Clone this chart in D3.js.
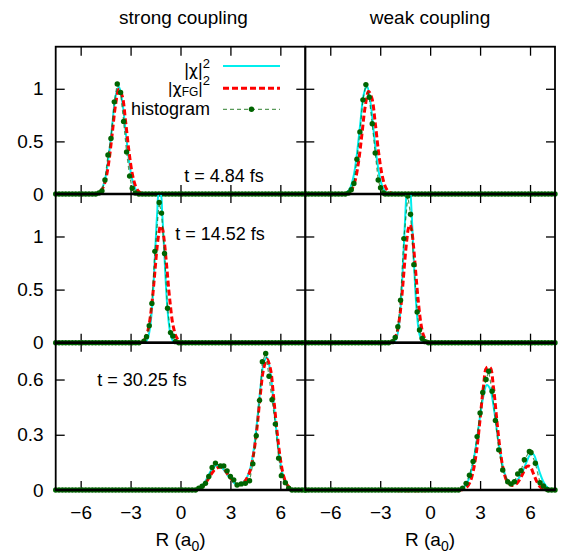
<!DOCTYPE html>
<html lang="en">
<head>
<meta charset="UTF-8">
<title>Wave packet densities</title>
<script src="https://d3js.org/d3.v7.min.js"></script>
<style>
  body { margin: 0; background: #fff; }
  text { font-family: "Liberation Sans", Arial, sans-serif; fill: #000; }
</style>
</head>
<body>
<div id="chart"></div>
<script>
// ---- data: [R (a0), density] ----
const xTicks = [-6, -3, 0, 3, 6];
const yTicksUpper = [0, 0.5, 1];
const yTicksLower = [0, 0.3, 0.6];
const columnTitles = ["strong coupling", "weak coupling"];
const timeLabels = ["t = 4.84 fs", "t = 14.52 fs", "t = 30.25 fs"];

// t = 4.84 fs
const chiStrong1 = [[-5.3,0],[-5.1,0.003],[-4.9,0.016],[-4.7,0.058],[-4.5,0.167],[-4.3,0.375],[-4.1,0.66],[-3.9,0.93],[-3.7,1.02],[-3.5,0.88],[-3.3,0.60],[-3.1,0.326],[-2.9,0.138],[-2.7,0.046],[-2.5,0.012],[-2.3,0.002],[-2.1,0]];
const chiFGStrong1 = [[-5.3,0],[-5.1,0.003],[-4.9,0.013],[-4.7,0.047],[-4.5,0.135],[-4.3,0.313],[-4.1,0.578],[-3.9,0.85],[-3.7,0.995],[-3.5,0.93],[-3.3,0.69],[-3.1,0.41],[-2.9,0.194],[-2.7,0.074],[-2.5,0.022],[-2.3,0.005],[-2.1,0]];
const histStrong1 = [[-4.9,0.01],[-4.72,0.03],[-4.54,0.133],[-4.36,0.37],[-4.18,0.527],[-3.98,0.876],[-3.8,1.045],[-3.6,0.965],[-3.42,0.69],[-3.24,0.40],[-3.06,0.17],[-2.9,0.055],[-2.72,0.01]];

const chiWeak1 = [[-5.4,0],[-5.2,0.003],[-5.0,0.016],[-4.8,0.058],[-4.6,0.168],[-4.4,0.38],[-4.2,0.665],[-4.0,0.94],[-3.8,1.03],[-3.6,0.89],[-3.4,0.605],[-3.2,0.33],[-3.0,0.14],[-2.8,0.046],[-2.6,0.012],[-2.4,0.002],[-2.2,0]];
const chiFGWeak1 = [[-5.3,0],[-5.1,0.003],[-4.9,0.013],[-4.7,0.046],[-4.5,0.132],[-4.3,0.307],[-4.1,0.566],[-3.9,0.833],[-3.7,0.975],[-3.5,0.91],[-3.3,0.676],[-3.1,0.40],[-2.9,0.19],[-2.7,0.072],[-2.5,0.022],[-2.3,0.005],[-2.1,0]];
const histWeak1 = [[-4.9,0.01],[-4.74,0.04],[-4.58,0.10],[-4.4,0.33],[-4.22,0.59],[-4.04,0.895],[-3.86,1.04],[-3.66,0.92],[-3.48,0.667],[-3.3,0.39],[-3.12,0.133],[-2.98,0.06],[-2.8,0.01]];

// t = 14.52 fs
const chiStrong2 = [[-2.3,0],[-2.2,0.003],[-2.1,0.01],[-2.0,0.03],[-1.9,0.08],[-1.8,0.18],[-1.7,0.35],[-1.6,0.61],[-1.5,0.93],[-1.4,1.22],[-1.3,1.40],[-1.2,1.40],[-1.1,1.22],[-1.0,0.93],[-0.9,0.61],[-0.8,0.35],[-0.7,0.18],[-0.6,0.08],[-0.5,0.03],[-0.4,0.01],[-0.3,0.003],[-0.2,0]];
const chiFGStrong2 = [[-2.4,0],[-2.3,0.01],[-2.2,0.02],[-2.1,0.047],[-2.0,0.09],[-1.9,0.158],[-1.8,0.26],[-1.7,0.395],[-1.6,0.56],[-1.5,0.74],[-1.4,0.91],[-1.3,1.03],[-1.2,1.1],[-1.1,1.08],[-1.0,0.99],[-0.9,0.84],[-0.8,0.67],[-0.7,0.49],[-0.6,0.34],[-0.5,0.21],[-0.4,0.13],[-0.3,0.07],[-0.2,0.04],[-0.1,0.015],[0,0.005],[0.1,0]];
const histStrong2 = [[-2.2,0.015],[-2.04,0.057],[-1.88,0.16],[-1.72,0.37],[-1.54,0.86],[-1.28,1.32],[-1.14,1.22],[-0.96,0.84],[-0.78,0.325],[-0.6,0.095],[-0.46,0.063],[-0.3,0.01]];

const chiWeak2 = [[-2.3,0],[-2.2,0.005],[-2.1,0.02],[-2.0,0.054],[-1.9,0.13],[-1.8,0.28],[-1.7,0.52],[-1.6,0.84],[-1.5,1.18],[-1.4,1.45],[-1.3,1.55],[-1.2,1.45],[-1.1,1.18],[-1.0,0.84],[-0.9,0.52],[-0.8,0.28],[-0.7,0.13],[-0.6,0.054],[-0.5,0.02],[-0.4,0.005],[-0.3,0]];
const chiFGWeak2 = [[-2.4,0],[-2.3,0.01],[-2.2,0.02],[-2.1,0.047],[-2.0,0.09],[-1.9,0.17],[-1.8,0.28],[-1.7,0.435],[-1.6,0.62],[-1.5,0.81],[-1.4,0.97],[-1.3,1.08],[-1.2,1.11],[-1.1,1.05],[-1.0,0.91],[-0.9,0.73],[-0.8,0.54],[-0.7,0.37],[-0.6,0.23],[-0.5,0.13],[-0.4,0.07],[-0.3,0.035],[-0.2,0.015],[-0.1,0.005],[0,0]];
const histWeak2 = [[-2.26,0.01],[-2.1,0.05],[-1.94,0.15],[-1.78,0.40],[-1.58,0.98],[-1.34,1.38],[-1.18,1.21],[-0.98,0.735],[-0.78,0.29],[-0.64,0.12],[-0.48,0.04],[-0.3,0.01]];

// t = 30.25 fs
const chiStrong3 = [[0.8,0],[1.0,0.005],[1.2,0.015],[1.4,0.035],[1.6,0.065],[1.8,0.10],[2.0,0.125],[2.2,0.135],[2.4,0.13],[2.6,0.11],[2.8,0.085],[3.0,0.06],[3.2,0.04],[3.4,0.03],[3.6,0.03],[3.8,0.045],[4.0,0.07],[4.2,0.12],[4.4,0.22],[4.6,0.37],[4.8,0.55],[5.0,0.69],[5.2,0.72],[5.4,0.64],[5.6,0.47],[5.8,0.29],[6.0,0.15],[6.2,0.065],[6.4,0.025],[6.6,0.008],[6.8,0]];
const chiFGStrong3 = [[0.8,0],[1.0,0.003],[1.2,0.01],[1.4,0.025],[1.6,0.05],[1.8,0.08],[2.0,0.105],[2.2,0.12],[2.4,0.125],[2.6,0.115],[2.8,0.09],[3.0,0.065],[3.2,0.045],[3.4,0.03],[3.6,0.03],[3.8,0.04],[4.0,0.065],[4.2,0.11],[4.4,0.20],[4.6,0.34],[4.8,0.52],[5.0,0.66],[5.2,0.71],[5.4,0.66],[5.6,0.50],[5.8,0.32],[6.0,0.17],[6.2,0.075],[6.4,0.03],[6.6,0.01],[6.8,0]];
const histStrong3 = [[1.1,0.01],[1.3,0.02],[1.5,0.036],[1.7,0.073],[1.9,0.122],[2.1,0.146],[2.4,0.131],[2.6,0.131],[2.8,0.104],[3.0,0.073],[3.2,0.055],[3.4,0.027],[3.65,0.033],[3.9,0.036],[4.15,0.05],[4.35,0.142],[4.55,0.295],[4.75,0.487],[4.92,0.697],[5.12,0.742],[5.32,0.618],[5.5,0.49],[5.7,0.358],[5.9,0.173],[6.06,0.078],[6.3,0.04],[6.5,0.01]];

const chiWeak3 = [[1.6,0],[1.8,0.005],[2.0,0.013],[2.2,0.035],[2.4,0.08],[2.6,0.157],[2.8,0.27],[3.0,0.40],[3.2,0.51],[3.4,0.57],[3.6,0.55],[3.8,0.46],[4.0,0.33],[4.2,0.21],[4.4,0.115],[4.6,0.06],[4.8,0.035],[5.0,0.035],[5.2,0.05],[5.4,0.075],[5.6,0.11],[5.8,0.155],[6.0,0.19],[6.2,0.195],[6.4,0.15],[6.6,0.09],[6.8,0.045],[7.0,0.018],[7.2,0.005],[7.4,0]];
const chiFGWeak3 = [[1.8,0],[2.0,0.004],[2.2,0.015],[2.4,0.044],[2.6,0.108],[2.8,0.22],[3.0,0.385],[3.2,0.56],[3.4,0.665],[3.6,0.665],[3.8,0.56],[4.0,0.385],[4.2,0.22],[4.4,0.11],[4.6,0.05],[4.8,0.03],[5.0,0.025],[5.2,0.035],[5.4,0.06],[5.6,0.095],[5.8,0.128],[6.0,0.128],[6.2,0.09],[6.4,0.047],[6.6,0.018],[6.8,0.005],[7.0,0]];
const histWeak3 = [[1.95,0.01],[2.16,0.036],[2.36,0.08],[2.58,0.155],[2.82,0.29],[3.0,0.418],[3.16,0.53],[3.36,0.60],[3.52,0.645],[3.72,0.536],[3.92,0.378],[4.12,0.218],[4.36,0.109],[4.66,0.045],[4.86,0.033],[5.06,0.045],[5.26,0.087],[5.46,0.105],[5.66,0.164],[5.96,0.209],[6.06,0.204],[6.32,0.145],[6.6,0.04],[6.8,0.022],[7.0,0.005]];

// empty histogram bins along the whole R range
const binCenters = d3.range(-7.5, 7.51, 0.2);

const panels = [
  {col: 0, row: 0, chi: chiStrong1, fg: chiFGStrong1, hist: histStrong1},
  {col: 1, row: 0, chi: chiWeak1,   fg: chiFGWeak1,   hist: histWeak1},
  {col: 0, row: 1, chi: chiStrong2, fg: chiFGStrong2, hist: histStrong2},
  {col: 1, row: 1, chi: chiWeak2,   fg: chiFGWeak2,   hist: histWeak2},
  {col: 0, row: 2, chi: chiStrong3, fg: chiFGStrong3, hist: histStrong3},
  {col: 1, row: 2, chi: chiWeak3,   fg: chiFGWeak3,   hist: histWeak3}
];

// ---- layout ----
const width = 564, height = 558;
const colX = [[55.7, 305.3], [305.3, 555]];
const rowY = [[46.7, 194], [194, 342.7], [342.7, 490]];
const yMax = [1.4, 1.4, 0.8];
const FONT = "Liberation Sans, Arial, sans-serif";
const cyan = "#00eeee", red = "#ff0000", green = "#006400";

const svg = d3.select("#chart").append("svg")
  .attr("width", width)
  .attr("height", height);

const defs = svg.append("defs");

function styleAxis(g, labels) {
  g.select(".domain").remove();
  g.selectAll(".tick line").attr("stroke", "#000").attr("stroke-width", 1.3);
  g.selectAll(".tick text").attr("font-size", labels ? 19 : 0).attr("font-family", FONT);
}

panels.forEach((p, i) => {
  const [x0, x1] = colX[p.col];
  const [y0, y1] = rowY[p.row];
  const x = d3.scaleLinear().domain([-7.5, 7.5]).range([x0, x1]);
  const y = d3.scaleLinear().domain([0, yMax[p.row]]).range([y1, y0]);
  const yTicks = p.row === 2 ? yTicksLower : yTicksUpper;
  const g = svg.append("g");

  defs.append("clipPath").attr("id", "clip" + i)
    .append("rect")
    .attr("x", x0).attr("y", y0)
    .attr("width", x1 - x0).attr("height", y1 - y0 + 3);

  // ticks, mirrored on all sides, pointing inward
  const bottomLabels = p.row === 2;
  const leftLabels = p.col === 0;
  g.append("g").attr("transform", `translate(0,${y1})`)
    .call(d3.axisBottom(x).tickValues(xTicks).tickSizeInner(-9).tickSizeOuter(0).tickPadding(16)
      .tickFormat(bottomLabels ? d3.format("d") : () => ""))
    .call(s => styleAxis(s, bottomLabels));
  g.append("g").attr("transform", `translate(0,${y0})`)
    .call(d3.axisTop(x).tickValues(xTicks).tickSizeInner(-9).tickSizeOuter(0).tickFormat(() => ""))
    .call(s => styleAxis(s, false));
  g.append("g").attr("transform", `translate(${x0},0)`)
    .call(d3.axisLeft(y).tickValues(yTicks).tickSizeInner(-9).tickSizeOuter(0).tickPadding(12)
      .tickFormat(leftLabels ? d => String(d) : () => ""))
    .call(s => styleAxis(s, leftLabels));
  g.append("g").attr("transform", `translate(${x1},0)`)
    .call(d3.axisRight(y).tickValues(yTicks).tickSizeInner(-9).tickSizeOuter(0).tickFormat(() => ""))
    .call(s => styleAxis(s, false));

  const line = d3.line()
    .x(d => x(d[0]))
    .y(d => y(d[1]))
    .curve(d3.curveCatmullRom.alpha(0.5));

  const pad = arr => [[-7.5, 0]].concat(arr, [[7.5, 0]]);

  const data = g.append("g").attr("clip-path", `url(#clip${i})`);
  data.append("path")
    .attr("d", line(pad(p.chi)))
    .attr("fill", "none")
    .attr("stroke", cyan)
    .attr("stroke-width", 2);
  data.append("path")
    .attr("d", line(pad(p.fg)))
    .attr("fill", "none")
    .attr("stroke", red)
    .attr("stroke-width", 3)
    .attr("stroke-dasharray", "6,3");

  const lo = p.hist[0][0] - 0.1, hi = p.hist[p.hist.length - 1][0] + 0.1;
  const hist = binCenters.filter(r => r < lo || r > hi).map(r => [r, 0])
    .concat(p.hist)
    .sort((a, b) => a[0] - b[0]);

  data.append("path")
    .attr("d", d3.line().x(d => x(d[0])).y(d => y(d[1]))(hist))
    .attr("fill", "none")
    .attr("stroke", green)
    .attr("stroke-opacity", 0.65)
    .attr("stroke-width", 1.2)
    .attr("stroke-dasharray", "4,3");

  g.append("g").selectAll("circle")
    .data(hist)
    .join("circle")
    .attr("cx", d => x(d[0]))
    .attr("cy", d => y(d[1]))
    .attr("r", 2.7)
    .attr("fill", green);

  // frame
  g.append("rect")
    .attr("x", x0).attr("y", y0)
    .attr("width", x1 - x0).attr("height", y1 - y0)
    .attr("fill", "none")
    .attr("stroke", "#000")
    .attr("stroke-width", 1.8);
  g.append("line")
    .attr("x1", x0).attr("x2", x1)
    .attr("y1", y(0)).attr("y2", y(0))
    .attr("stroke", "#000")
    .attr("stroke-width", 2.4);
});

// column titles and x labels
[180.5, 430].forEach((cx, i) => {
  svg.append("text")
    .attr("x", cx + (i === 0 ? 3 : 0)).attr("y", 24)
    .attr("text-anchor", "middle")
    .attr("font-size", 19)
    .text(columnTitles[i]);
  const lab = svg.append("text")
    .attr("x", cx).attr("y", 546)
    .attr("text-anchor", "middle")
    .attr("font-size", 19);
  lab.append("tspan").text("R (a");
  lab.append("tspan").attr("font-size", 14).attr("dy", 5).text("0");
  lab.append("tspan").attr("dy", -5).text(")");
});

// time stamps (left column)
const timePos = [[224, 182], [220, 240], [142, 386]];
timeLabels.forEach((t, i) => {
  svg.append("text")
    .attr("x", timePos[i][0]).attr("y", timePos[i][1])
    .attr("text-anchor", "middle")
    .attr("font-size", 18)
    .text(t);
});

// legend
const legend = svg.append("g");
const legX0 = 223, legX1 = 280, legTextX = 210;
const legRows = [66, 88.3, 109.3];
const GREEK = "DejaVu Sans, sans-serif";

legend.append("line").attr("x1", legX0).attr("x2", legX1).attr("y1", legRows[0]).attr("y2", legRows[0])
  .attr("stroke", cyan).attr("stroke-width", 2);
legend.append("line").attr("x1", legX0).attr("x2", legX1).attr("y1", legRows[1]).attr("y2", legRows[1])
  .attr("stroke", red).attr("stroke-width", 3).attr("stroke-dasharray", "6,3");
legend.append("line").attr("x1", legX0).attr("x2", legX1).attr("y1", legRows[2]).attr("y2", legRows[2])
  .attr("stroke", green).attr("stroke-opacity", 0.65).attr("stroke-width", 1.2).attr("stroke-dasharray", "4,3");
legend.append("circle").attr("cx", (legX0 + legX1) / 2).attr("cy", legRows[2]).attr("r", 2.7).attr("fill", green);

const l1 = legend.append("text").attr("x", legTextX).attr("y", 75.5).attr("text-anchor", "end").attr("font-size", 18);
l1.append("tspan").text("|");
l1.append("tspan").attr("font-family", GREEK).attr("font-size", 16).text("χ");
l1.append("tspan").text("|");
l1.append("tspan").attr("font-size", 13).attr("dy", -8).text("2");

const l2 = legend.append("text").attr("x", legTextX).attr("y", 94).attr("text-anchor", "end").attr("font-size", 17);
l2.append("tspan").text("|");
l2.append("tspan").attr("font-family", GREEK).attr("font-size", 16).text("χ");
l2.append("tspan").attr("font-size", 12).attr("dy", 2).text("FG");
l2.append("tspan").attr("dy", -2).text("|");
l2.append("tspan").attr("font-size", 13).attr("dy", -9).text("2");

legend.append("text").attr("x", legTextX).attr("y", 115).attr("text-anchor", "end").attr("font-size", 18)
  .text("histogram");
</script>
</body>
</html>
